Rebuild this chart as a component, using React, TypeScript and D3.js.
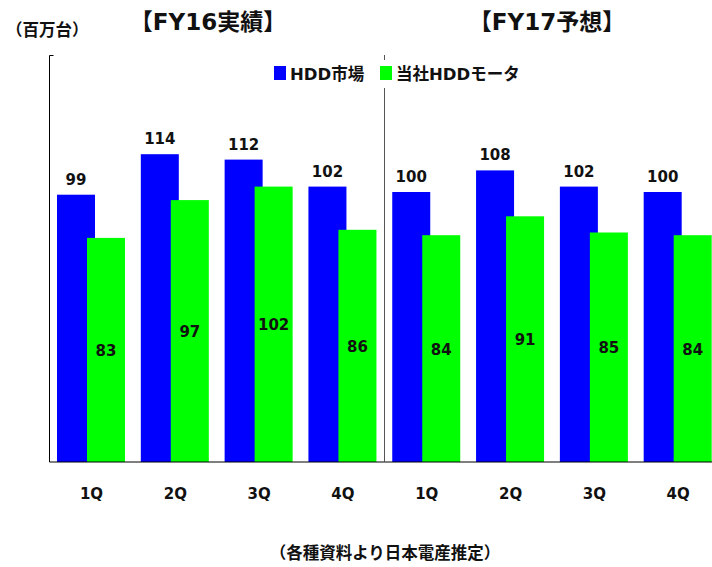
import { useEffect, useRef } from "react";
import * as d3 from "d3";

const quarters = ["1Q", "2Q", "3Q", "4Q", "1Q", "2Q", "3Q", "4Q"];
const hddMarket = [99, 114, 112, 102, 100, 108, 102, 100];
const motorShare = [83, 97, 102, 86, 84, 91, 85, 84];
const panelTitles = ["【FY16実績】", "【FY17予想】"];
const seriesNames = ["HDD市場", "当社HDDモータ"];
const colors = ["#0000ff", "#00ff00"];

const FONT = "'DejaVu Sans', 'Noto Sans CJK JP', sans-serif";

const App = () => {
  const svgRef = useRef(null);

  useEffect(() => {
    document.body.style.margin = "0";
    document.body.style.overflow = "hidden";
    const w = 712;
    const h = 567;
    const left = 49.5;
    const bottom = 462;
    const svg = d3.select(svgRef.current).attr("width", w).attr("height", h);
    svg.selectAll("*").remove();

    const keys = quarters.map((q, i) => i + "-" + q);
    const x = d3.scaleBand().domain(keys).range([left, 720]);
    const y = d3.scaleLinear().domain([0, 150]).range([bottom, 57]);
    const bw = 38;
    const bx = (i: number) => x(keys[i])!;

    // blue bars
    svg
      .selectAll(".hdd")
      .data(hddMarket)
      .join("rect")
      .attr("x", (d, i) => bx(i) + 7.5)
      .attr("y", (d) => y(d))
      .attr("width", bw)
      .attr("height", (d) => bottom - y(d))
      .attr("fill", colors[0]);

    // green bars on top
    svg
      .selectAll(".motor")
      .data(motorShare)
      .join("rect")
      .attr("x", (d, i) => bx(i) + 37.5)
      .attr("y", (d) => y(d))
      .attr("width", bw)
      .attr("height", (d) => bottom - y(d))
      .attr("fill", colors[1]);

    const txt = svg
      .append("g")
      .attr("font-family", FONT)
      .attr("font-weight", "bold")
      .attr("fill", "#111");

    txt
      .selectAll(".vb")
      .data(hddMarket)
      .join("text")
      .attr("x", (d, i) => bx(i) + 7.5 + bw / 2)
      .attr("y", (d) => y(d) - 10)
      .attr("text-anchor", "middle")
      .attr("font-size", 15)
      .text((d) => d);

    txt
      .selectAll(".vg")
      .data(motorShare)
      .join("text")
      .attr("x", (d, i) => bx(i) + 37.5 + bw / 2)
      .attr("y", (d) => (y(d) + bottom) / 2 + 6)
      .attr("text-anchor", "middle")
      .attr("font-size", 15)
      .text((d) => d);

    txt
      .selectAll(".q")
      .data(quarters)
      .join("text")
      .attr("x", (d, i) => bx(i) + 42)
      .attr("y", 499)
      .attr("text-anchor", "middle")
      .attr("font-size", 15)
      .text((d) => d);

    // axes
    svg
      .append("line")
      .attr("x1", left)
      .attr("x2", w)
      .attr("y1", bottom)
      .attr("y2", bottom)
      .attr("stroke", "#000")
      .attr("stroke-width", 1.2);
    svg
      .append("path")
      .attr("d", `M${left + 4},55.5H${left}V${bottom}`)
      .attr("fill", "none")
      .attr("stroke", "#000");
    svg
      .append("line")
      .attr("x1", 384.5)
      .attr("x2", 384.5)
      .attr("y1", 55)
      .attr("y2", bottom)
      .attr("stroke", "#555");

    // legend
    const lg = svg.append("g");
    lg.append("rect").attr("x", 270).attr("y", 60).attr("width", 250).attr("height", 28).attr("fill", "#fff");
    const lx = [274, 380];
    seriesNames.forEach((s, i) => {
      lg.append("rect").attr("x", lx[i]).attr("y", 66).attr("width", 12).attr("height", 14).attr("fill", colors[i]);
      lg.append("text")
        .attr("x", lx[i] + 16)
        .attr("y", 80)
        .attr("font-family", FONT)
        .attr("font-weight", "bold")
        .attr("font-size", 16.5)
        .attr("fill", "#111")
        .text(s);
    });

    // titles
    const tx = [208, 547];
    panelTitles.forEach((t, i) => {
      txt.append("text")
        .attr("x", tx[i])
        .attr("y", 30)
        .attr("text-anchor", "middle")
        .attr("font-size", 23)
        .text(t);
    });
    txt.append("text").attr("x", 6).attr("y", 36).attr("font-size", 16.5).text("（百万台）");
    txt.append("text")
      .attr("x", 385)
      .attr("y", 559)
      .attr("text-anchor", "middle")
      .attr("font-size", 16.5)
      .text("（各種資料より日本電産推定）");
  }, []);

  return (
    <div>
      <svg ref={svgRef} style={{ display: "block" }} />
    </div>
  );
};

export default App;
